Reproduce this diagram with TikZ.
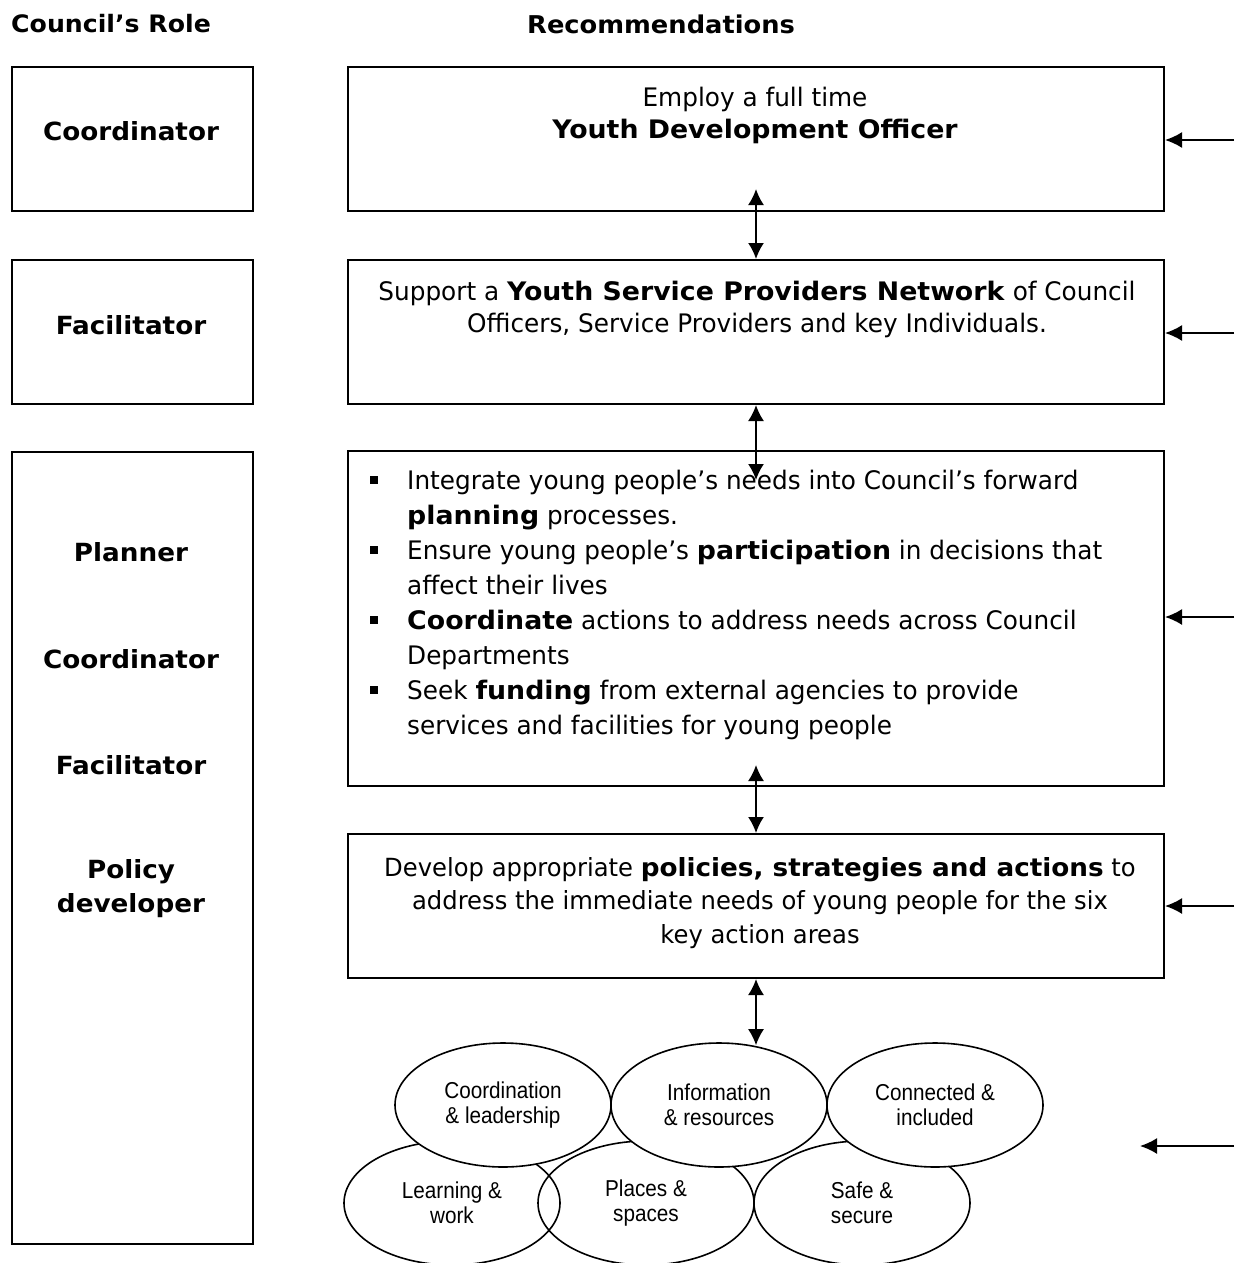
\documentclass[tikz,border=0pt]{standalone}
\usepackage{fontspec}
\setmainfont{DejaVu Sans}[UprightFeatures={FakeStretch=0.97}, BoldFeatures={FakeStretch=1.05}]
\newfontfamily\narrowfont{Liberation Sans}[FakeStretch=0.9]
\usetikzlibrary{arrows.meta,shapes.geometric}
\begin{document}
\begin{tikzpicture}[x=1pt,y=-1pt,
  box/.style={draw, line width=2pt, rectangle, inner sep=0pt, anchor=north west},
  headbf/.style={font=\fontsize{24}{34}\selectfont\bfseries, inner sep=0pt, anchor=west},
  rolebf/.style={font=\fontsize{25}{34}\selectfont\bfseries, align=center, inner sep=0pt},
  body/.style={font=\fontsize{25.5}{32}\selectfont, align=center, inner sep=0pt},
  bline/.style={font=\fontsize{25.5}{32}\selectfont, anchor=base west, inner sep=0pt},
  oval/.style={draw, line width=1.6pt, ellipse, minimum width=216pt, minimum height=124pt, inner sep=0pt,
     font=\narrowfont\fontsize{23}{25}\selectfont, align=center},
  arr/.style={-{Latex[length=17pt,width=16pt]}, line width=1.8pt},
  dbl/.style={{Latex[length=16pt,width=16pt]}-{Latex[length=16pt,width=16pt]}, line width=1.8pt}]
\useasboundingbox (0,0) rectangle (1234,1263);
% headers
\node[headbf] (h1) at (11,24) {Council’s Role};
\node[headbf, font=\fontsize{24.5}{34}\selectfont\bfseries] (h2) at (527,24) {Recommendations};
% left boxes
\node[box, minimum width=241pt, minimum height=144pt] (l1) at (11,66) {};
\node[box, minimum width=241pt, minimum height=144pt] (l2) at (11,259) {};
\node[box, minimum width=241pt, minimum height=792pt] (l3) at (11,451) {};
\node[rolebf] (t1) at (131,131) {Coordinator};
\node[rolebf] (t2) at (131,325) {Facilitator};
\node[rolebf] (t3) at (131,552) {Planner};
\node[rolebf] (t4) at (131,659) {Coordinator};
\node[rolebf] (t5) at (131,765) {Facilitator};
\node[rolebf] (t6) at (131,889) {Policy\\developer};
% right boxes
\node[box, minimum width=816pt, minimum height=144pt] (r1) at (347,66) {};
\node[box, minimum width=816pt, minimum height=144pt] (r2) at (347,259) {};
\node[box, minimum width=816pt, minimum height=335pt] (r3) at (347,450) {};
\node[box, minimum width=816pt, minimum height=144pt] (r4) at (347,833) {};
\node[body] (b1) at (755,115) {Employ a full time\\\textbf{Youth Development Officer}};
\node[body] (b2) at (757,309) {Support a \textbf{Youth Service Providers Network} of Council\\Officers, Service Providers and key Individuals.};
\node[body, font=\fontsize{25}{33.5}\selectfont] (b4) at (760,903) {Develop appropriate \textbf{policies, strategies and actions} to\\address the immediate needs of young people for the six\\key action areas};
% bullet list
\foreach \yy in {489,559,629,699} \fill (370,\yy-13) rectangle (378,\yy-5);
\node[bline] (p1) at (407,489) {Integrate young people’s needs into Council’s forward};
\node[bline] (p2) at (407,524) {\textbf{planning} processes.};
\node[bline] (p3) at (407,559) {Ensure young people’s \textbf{participation} in decisions that};
\node[bline] (p4) at (407,594) {affect their lives};
\node[bline] (p5) at (407,629) {\textbf{Coordinate} actions to address needs across Council};
\node[bline] (p6) at (407,664) {Departments};
\node[bline] (p7) at (407,699) {Seek \textbf{funding} from external agencies to provide};
\node[bline] (p8) at (407,734) {services and facilities for young people};
% ellipses
\node[oval] (e4) at (452,1203) {Learning \&\\work};
\node[oval] (e5) at (646,1203) {Places \&\\spaces};
\node[oval] (e6) at (862,1203) {Safe \&\\secure};
\node[oval, fill=white] (e1) at (503,1105) {Coordination\\\& leadership};
\node[oval, fill=white] (e2) at (719,1105) {Information\\\& resources};
\node[oval, fill=white] (e3) at (935,1105) {Connected \&\\included};
% vertical connectors
\draw[dbl] ([yshift=23pt]r1.south) -- (r2.north);
\draw[dbl] (r2.south) -- ([yshift=-30pt]r3.north);
\draw[dbl] ([yshift=22pt]r3.south) -- (r4.north);
\draw[dbl] (r4.south) -- ([yshift=-3pt]e2.north -| r4.south);
% incoming arrows from right
\coordinate (i1) at (1234,140);
\coordinate (i2) at (1234,333);
\coordinate (i3) at (1234,617);
\coordinate (i4) at (1234,906);
\coordinate (i5) at (1234,1146);
\coordinate (j5) at (1140,1146);
\draw[arr] (i1) -- (i1 -| r1.east);
\draw[arr] (i2) -- (i2 -| r2.east);
\draw[arr] (i3) -- (i3 -| r3.east);
\draw[arr] (i4) -- (i4 -| r4.east);
\draw[arr] (i5) -- (j5);
\end{tikzpicture}
\end{document}
